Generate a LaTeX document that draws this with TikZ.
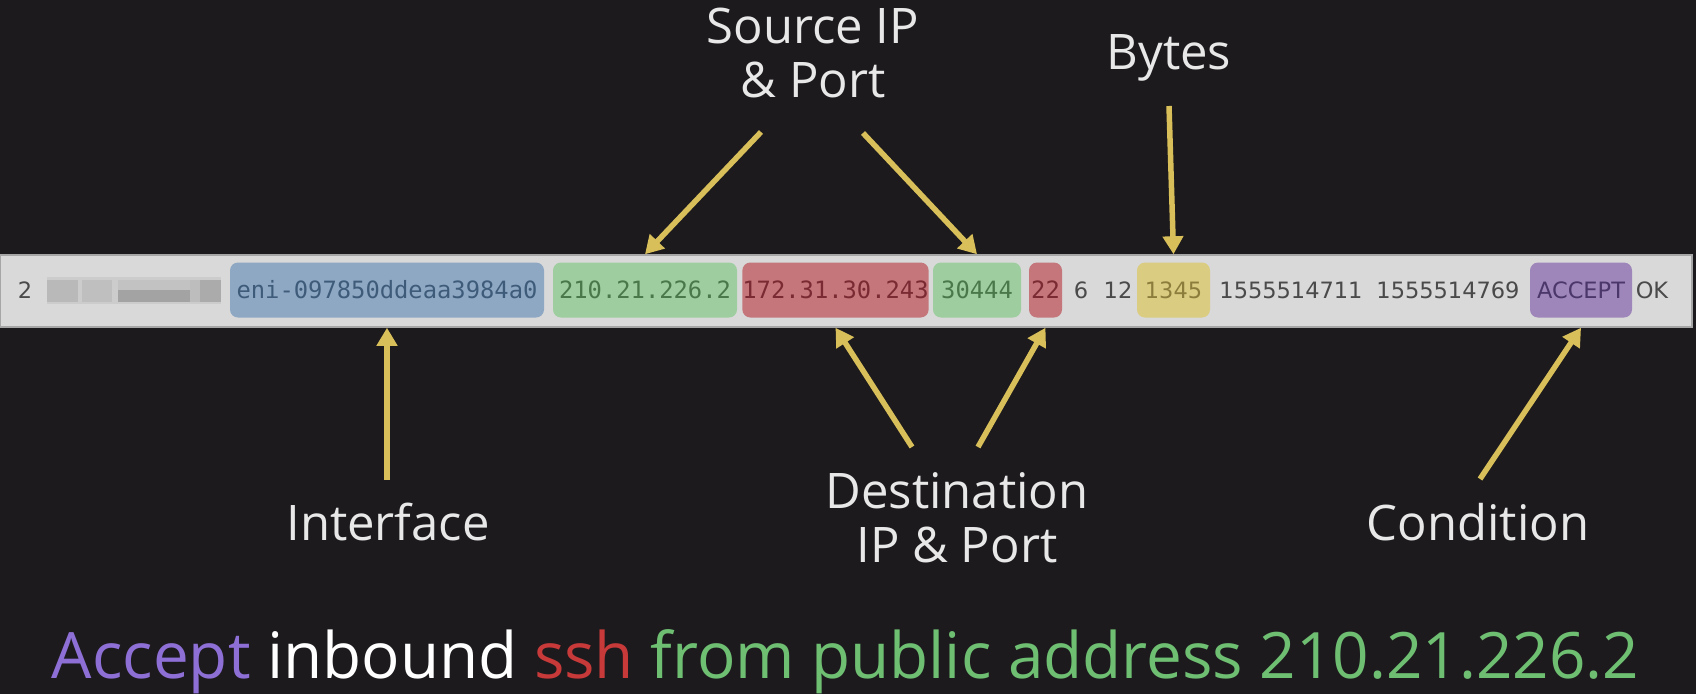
\documentclass[tikz,border=0pt]{standalone}
\usepackage{fontspec}
\usepackage{graphicx}
\setmainfont{Open Sans}
\newfontfamily\monof{DejaVu Sans Mono}
\newfontfamily\logsans{DejaVu Sans}
\usetikzlibrary{arrows.meta,calc}
\definecolor{bg}{HTML}{1C1A1D}
\definecolor{stripc}{HTML}{D9D9D9}
\definecolor{stripedge}{HTML}{A6A6A6}
\definecolor{plaintxt}{HTML}{4A4A4A}
\definecolor{bluef}{HTML}{8EA8C4}\definecolor{bluet}{HTML}{3E5C7A}
\definecolor{greenf}{HTML}{9ECE9F}\definecolor{greent}{HTML}{4A784A}
\definecolor{redf}{HTML}{C4767A}\definecolor{redt}{HTML}{7A2A33}
\definecolor{yellowf}{HTML}{DACC80}\definecolor{yellowt}{HTML}{8C7D3C}
\definecolor{purplef}{HTML}{9E86BA}\definecolor{purplet}{HTML}{4B3769}
\definecolor{arrowy}{HTML}{D9BF5A}
\definecolor{labelc}{HTML}{E8E8E8}
\definecolor{accpurple}{HTML}{8E6FD6}
\definecolor{sshred}{HTML}{C83A3A}
\definecolor{fromgreen}{HTML}{6FBF73}
\begin{document}
\begin{tikzpicture}[x=1pt,y=-1pt,
  field/.style={rounded corners=8pt, minimum height=55pt, inner sep=0pt,
    text height=17pt, text depth=0pt,
    font=\monof\fontsize{23.8pt}{28pt}\selectfont},
  sfield/.style={field, font=\logsans\fontsize{22.5pt}{27pt}\selectfont},
  plain/.style={inner sep=0pt, text height=17pt, text depth=0pt, text=plaintxt,
    font=\logsans\fontsize{22.5pt}{27pt}\selectfont},
  lbl/.style={anchor=base, inner sep=0pt, text=labelc,
    font=\fontsize{49pt}{54pt}\selectfont},
  arr/.style={draw=arrowy, line width=5.5pt, -{Triangle[width=20pt,length=18pt]}}
]
\path[fill=bg] (0,0) rectangle (1696,694);
\useasboundingbox (0,0) rectangle (1696,694);

% log strip
\node[fill=stripc, draw=stripedge, line width=1.5pt, minimum width=1692pt,
      minimum height=72pt, inner sep=0pt] (strip) at (846,291) {};

% pixelated (blurred) field
\fill[gray!40] (47,277) rectangle (221,304);
\fill[gray!55] (47,280) rectangle (78,302);
\fill[gray!50] (82,280) rectangle (112,302);
\fill[gray!48] (118,280) rectangle (190,290);
\fill[gray!72] (118,290) rectangle (190,302);
\fill[gray!52] (190,280) rectangle (200,302);
\fill[gray!66] (200,280) rectangle (221,302);

\node[plain] (n2) at (25,290) {2};
\node[field, fill=bluef, text=bluet, minimum width=314pt] (eni) at (387,290) {eni-097850ddeaa3984a0};
\node[field, fill=greenf, text=greent, minimum width=184pt] (sip) at (645,290) {210.21.226.2};
\node[field, fill=redf, text=redt, minimum width=185pt] (dip) at (835.5,290) {172.31.30.243};
\node[field, fill=greenf, text=greent, minimum width=88pt] (sport) at (977,290) {30444};
\node[field, fill=redf, text=redt, minimum width=33pt] (dport) at (1045.5,290) {22};
\node[plain] (proto) at (1081,290) {6};
\node[plain] (pkts) at (1118,290) {12};
\node[sfield, fill=yellowf, text=yellowt, minimum width=73pt] (bytes) at (1173.5,290) {1345};
\node[plain] (start) at (1291,290) {1555514711};
\node[plain] (end) at (1448,290) {1555514769};
\node[sfield, fill=purplef, text=purplet, minimum width=102pt] (act) at (1581,290) {ACCEPT};
\node[plain] (ok) at (1652,290) {OK};

% labels
\node[lbl] (src1) at (813,43) {Source IP};
\node[lbl] (src2) at (813,97) {\& Port};
\node[lbl] (byteslbl) at (1169,69) {Bytes};
\node[lbl] (iflbl) at (388,540) {Interface};
\node[lbl] (dst1) at (957,508) {Destination};
\node[lbl] (dst2) at (957,562) {IP \& Port};
\node[lbl] (condlbl) at (1478,540) {Condition};

% arrow tails
\coordinate (srcA) at (761,132);
\coordinate (srcB) at (863,133);
\coordinate (bytA) at (1169,106);
\coordinate (ifA) at (387,480);
\coordinate (dstA) at (912,447);
\coordinate (dstB) at (978,447);
\coordinate (condA) at (1480,479);

\draw[arr] (srcA) -- (sip.north |- strip.north);
\draw[arr] (srcB) -- (sport.north |- strip.north);
\draw[arr] (bytA) -- (bytes.north |- strip.north);
\draw[arr] (ifA) -- (eni.south |- strip.south);
\draw[arr] (dstA) -- (dip.south |- strip.south);
\draw[arr] (dstB) -- (dport.south |- strip.south);
\draw[arr] (condA) -- (act.south |- strip.south);

% summary line
\node[anchor=base, inner sep=0pt] (summary) at (845.5,678)
  {\resizebox{1587pt}{\height}{\fontsize{64pt}{70pt}\selectfont
   \textcolor{accpurple}{Accept} \textcolor{white}{inbound} \textcolor{sshred}{ssh} \textcolor{fromgreen}{from public address 210.21.226.2}}};
\end{tikzpicture}
\end{document}
